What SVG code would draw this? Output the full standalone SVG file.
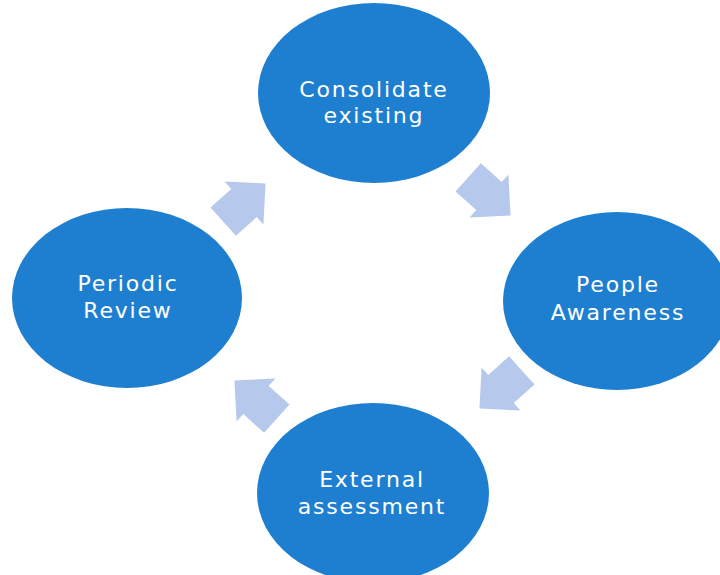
<svg xmlns="http://www.w3.org/2000/svg" width="720" height="575" viewBox="0 0 720 575">
  <defs>
    <style>
      .node { fill: #1e7fd0; }
      .lbl { fill: #ffffff; font-family: "DejaVu Sans", "Open Sans", sans-serif; font-size: 22px; letter-spacing: 1.8px; text-anchor: middle; }
      .arr { fill: #b6c8ec; }
    </style>
    <path id="blockArrow" d="M-28,-19 L0,-19 L0,-29 L29,0 L0,29 L0,19 L-28,19 Z"/>
  </defs>
  <rect width="720" height="575" fill="#ffffff"/>
  <g id="connectors">
    <use href="#blockArrow" class="arr" transform="translate(244,203) rotate(-42)"/>
    <use href="#blockArrow" class="arr" transform="translate(489,196) rotate(42)"/>
    <use href="#blockArrow" class="arr" transform="translate(501,389) rotate(138)"/>
    <use href="#blockArrow" class="arr" transform="translate(256,400) rotate(-138)"/>
  </g>
  <g id="node-consolidate">
    <ellipse class="node" cx="374" cy="93" rx="116" ry="90"/>
    <text class="lbl" x="374" y="97">Consolidate</text>
    <text class="lbl" x="374" y="123">existing</text>
  </g>
  <g id="node-people">
    <ellipse class="node" cx="617" cy="301" rx="114" ry="89"/>
    <text class="lbl" x="618" y="292">People</text>
    <text class="lbl" x="618" y="320">Awareness</text>
  </g>
  <g id="node-external">
    <ellipse class="node" cx="373" cy="493" rx="116" ry="90"/>
    <text class="lbl" x="372" y="487">External</text>
    <text class="lbl" x="372" y="514">assessment</text>
  </g>
  <g id="node-periodic">
    <ellipse class="node" cx="127" cy="298" rx="115" ry="90"/>
    <text class="lbl" x="128" y="291">Periodic</text>
    <text class="lbl" x="128" y="318">Review</text>
  </g>
</svg>
